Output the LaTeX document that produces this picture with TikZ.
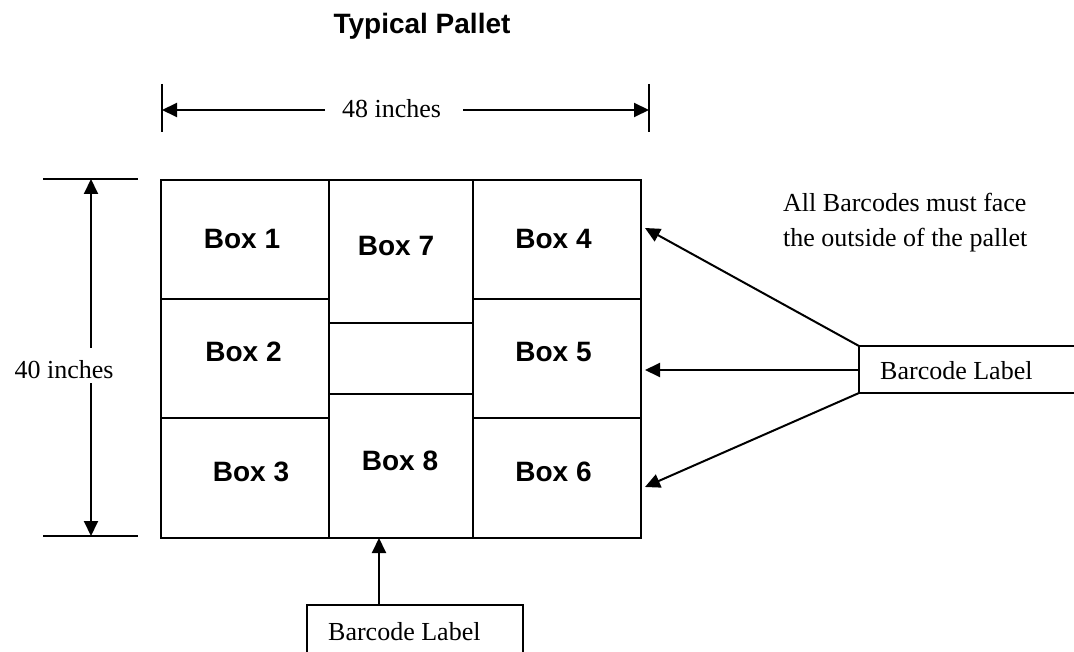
\documentclass[tikz,border=0pt]{standalone}
\usepackage{fontspec}
\setmainfont{Liberation Serif}
\newfontfamily\sansf{Liberation Sans}
\usetikzlibrary{arrows.meta}
\tikzset{
  cell/.style={draw, line width=2pt, inner sep=0pt, outer sep=0pt},
  boxtxt/.style={font=\sansf\bfseries\fontsize{28}{34}\selectfont, inner sep=0pt},
  serif/.style={font=\fontsize{26}{32}\selectfont, inner sep=0pt},
  arr/.style={line width=2pt, -{Triangle[length=15pt,width=14pt]}},
  tick/.style={line width=1.8pt},
  lblbox/.style={draw, line width=1.8pt, inner sep=0pt, outer sep=0pt}
}
\begin{document}
\begin{tikzpicture}[x=1pt,y=-1pt]
\useasboundingbox (0,0) rectangle (1074,652);
\clip (0,0) rectangle (1074,652);
% title
\node[boxtxt, anchor=base] (title) at (422,34) {Typical Pallet};
% cells
\node[cell, minimum width=168pt, minimum height=119pt] (b1) at (245,239.5) {};
\node[cell, minimum width=168pt, minimum height=119pt] (b2) at (245,358.5) {};
\node[cell, minimum width=168pt, minimum height=120pt] (b3) at (245,478) {};
\node[cell, minimum width=144pt, minimum height=143pt] (b7) at (401,251.5) {};
\node[cell, minimum width=144pt, minimum height=71pt] (bm) at (401,358.5) {};
\node[cell, minimum width=144pt, minimum height=144pt] (b8) at (401,466) {};
\node[cell, minimum width=168pt, minimum height=119pt] (b4) at (557,239.5) {};
\node[cell, minimum width=168pt, minimum height=119pt] (b5) at (557,358.5) {};
\node[cell, minimum width=168pt, minimum height=120pt] (b6) at (557,478) {};
% labels
\node[boxtxt] (t1) at (242,239.3) {Box 1};
\node[boxtxt] (t2) at (243.5,351.7) {Box 2};
\node[boxtxt] (t3) at (251,471.7) {Box 3};
\node[boxtxt] (t7) at (396,246.5) {Box 7};
\node[boxtxt] (t8) at (400,460.8) {Box 8};
\node[boxtxt] (t4) at (553.5,239.3) {Box 4};
\node[boxtxt] (t5) at (553.5,351.7) {Box 5};
\node[boxtxt] (t6) at (553.5,471.7) {Box 6};
% top dimension
\coordinate (tl) at (162,110);
\coordinate (tr) at (649,110);
\draw[tick] (162,84) -- (162,132);
\draw[tick] (649,84) -- (649,132);
\node[serif, anchor=base] (w48) at (391.5,118) {48 inches};
\coordinate (wl) at (325,110);
\coordinate (wr) at (463,110);
\draw[arr] (wl) -- (tl);
\draw[arr] (wr) -- (tr);
% left dimension
\draw[tick] (43,179) -- (138,179);
\draw[tick] (43,536) -- (138,536);
\node[serif, anchor=base] (h40) at (64,378) {40 inches};
\coordinate (hu) at (91,348);
\coordinate (hd) at (91,383);
\coordinate (ht) at (91,179);
\coordinate (hb) at (91,536);
\draw[arr] (hu) -- (ht);
\draw[arr] (hd) -- (hb);
% note
\node[serif, anchor=base west] (n1) at (783,212) {All Barcodes must face};
\node[serif, anchor=base west] (n2) at (783,247) {the outside of the pallet};
% right barcode label
\node[lblbox, anchor=north west, minimum width=240pt, minimum height=47pt] (rl) at (859,346) {};
\node[serif, anchor=base west] (rlt) at (880,380) {Barcode Label};
\coordinate (a4) at (645,228);
\coordinate (a5) at (645,370);
\coordinate (a6) at (645,487);
\draw[arr] (rl.north west) -- (a4);
\draw[arr] (rl.west |- a5) -- (a5);
\draw[arr] (rl.south west) -- (a6);
% bottom barcode label
\node[lblbox, anchor=north west, minimum width=216pt, minimum height=70pt] (bl) at (307,605) {};
\node[serif, anchor=base west] (blt) at (328,640) {Barcode Label};
\coordinate (ba) at (379,605);
\draw[arr] (ba) -- (ba |- b8.south);
\end{tikzpicture}
\end{document}
